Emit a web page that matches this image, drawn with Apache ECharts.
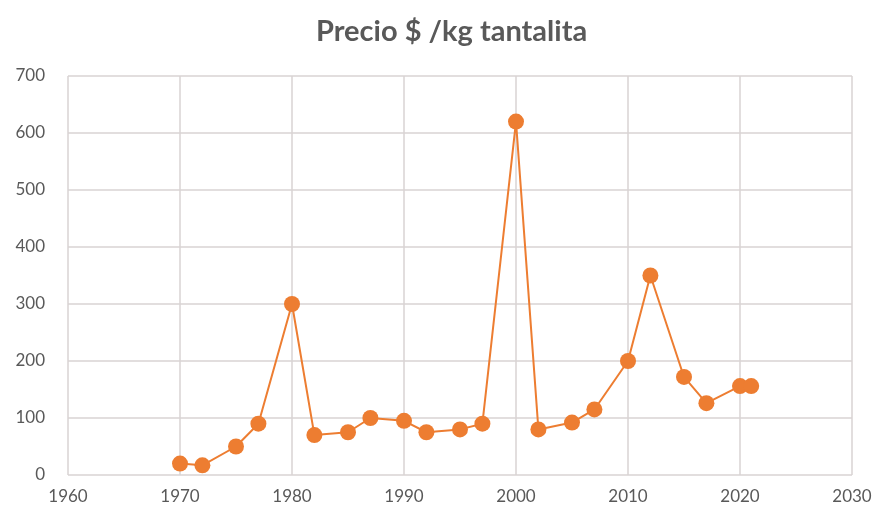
<!DOCTYPE html>
<html>
<head>
<meta charset="utf-8">
<script src="https://cdn.jsdelivr.net/npm/echarts@6/dist/echarts.min.js"></script>
<style>html,body{margin:0;padding:0;background:#fff}#c{width:876px;height:511px}</style>
</head>
<body>
<div id="c"></div>
<script>
var titleText = 'Precio $ /kg tantalita';
var years = [1970, 1972, 1975, 1977, 1980, 1982, 1985, 1987, 1990, 1992, 1995, 1997, 2000, 2002, 2005, 2007, 2010, 2012, 2015, 2017, 2020, 2021];
var prices = [20, 17, 50, 90, 300, 70, 75, 100, 95, 75, 80, 90, 620, 80, 92, 115, 200, 350, 172, 126, 156, 156];
var xTicks = [1960, 1970, 1980, 1990, 2000, 2010, 2020, 2030];
var yTicks = [0, 100, 200, 300, 400, 500, 600, 700];

var data = years.map(function (y, i) { return [y, prices[i]]; });
var chart = echarts.init(document.getElementById('c'));
chart.setOption({
  backgroundColor: '#fff',
  animation: false,
  title: {
    text: titleText, left: 311, top: 12,
    textStyle: { fontFamily: 'Lato', fontWeight: 'bold', fontSize: 29, color: '#595959' }
  },
  grid: { left: 68, right: 24, top: 76, bottom: 36 },
  xAxis: {
    type: 'value', min: xTicks[0], max: xTicks[xTicks.length - 1], interval: 10,
    axisLine: { show: false }, axisTick: { show: false },
    splitLine: { show: true, lineStyle: { color: '#d9d3d3', width: 1.5 } },
    axisLabel: { color: '#595959', fontSize: 17, fontFamily: 'Lato', margin: 13,
      formatter: function (v) { return String(v); } }
  },
  yAxis: {
    type: 'value', min: yTicks[0], max: yTicks[yTicks.length - 1], interval: 100,
    axisLine: { show: false }, axisTick: { show: false },
    splitLine: { show: true, lineStyle: { color: '#d9d3d3', width: 1.5 } },
    axisLabel: { color: '#595959', fontSize: 17, fontFamily: 'Lato', margin: 23,
      formatter: function (v) { return String(v); } }
  },
  series: [{
    type: 'line', data: data, symbol: 'circle', symbolSize: 16,
    lineStyle: { color: '#ED7D31', width: 2 },
    itemStyle: { color: '#ED7D31' }
  }]
});
</script>
</body>
</html>
